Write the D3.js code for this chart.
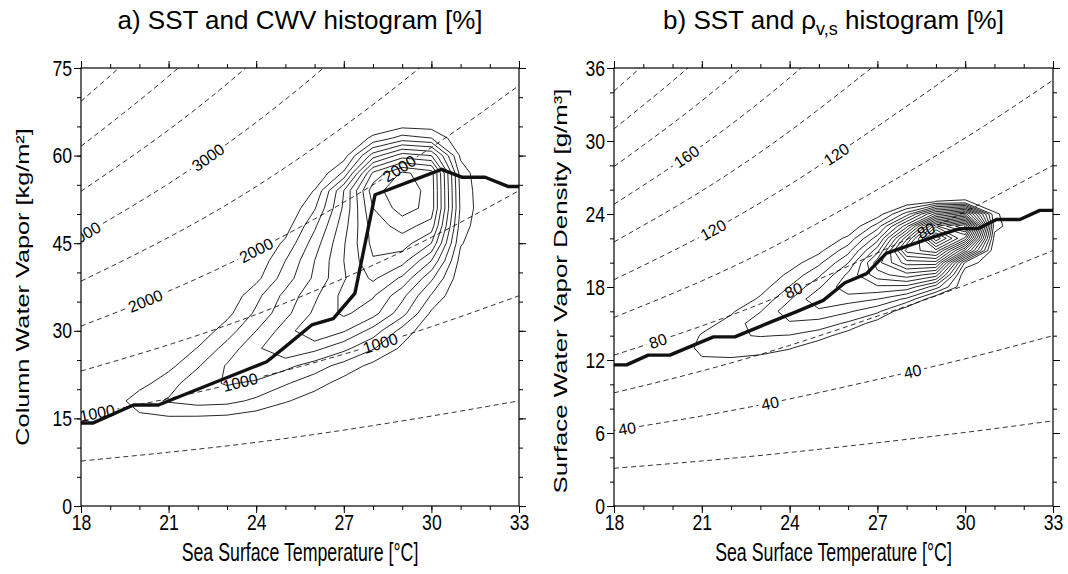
<!DOCTYPE html>
<html>
<head>
<meta charset="utf-8">
<script src="https://cdn.jsdelivr.net/npm/d3@7"></script>
<style>
  body { margin: 0; background: #fff; }
  svg { display: block; font-family: "Liberation Sans", Arial, Helvetica, sans-serif; }
</style>
</head>
<body>
<svg id="chart" width="1068" height="574"></svg>
<script>
// ---- axis ticks ----
const sstTicks = [18, 21, 24, 27, 30, 33];
const cwvTicks = [0, 15, 30, 45, 60, 75];
const rhoTicks = [0, 6, 12, 18, 24, 30, 36];

// ---- dashed isolines, read at these SST nodes ----
const isoSst = [18, 21, 24, 27, 30, 33];
const cwvIso = [
  [7.7, 9.2, 10.9, 13.0, 15.4, 18.0],
  [15.4, 18.4, 21.9, 26.0, 30.7, 36.0],
  [23.1, 27.6, 32.8, 39.0, 46.0, 54.0],
  [30.8, 36.8, 43.8, 52.0, 61.4, 72.0],
  [38.5, 46.0, 54.7, 65.0, 76.7, 90.0],
  [46.2, 55.2, 65.7, 78.0, 92.1, 108.0],
  [53.9, 64.4, 76.6, 91.0, 107.4, 126.0],
  [61.6, 73.6, 87.6, 104.0, 122.8, 144.0],
  [69.3, 82.8, 98.5, 117.0, 138.1, 162.0]
];
const cwvLabelLine = [1, 1, 1, 3, 3, 3, 5, 5];
const cwvLabelSst = [18.55, 23.45, 28.25, 20.2, 24.0, 28.9, 18.1, 22.35];
const cwvLabelText = ["1000", "1000", "1000", "2000", "2000", "2000", "3000", "3000"];

const rhoIso = [
  [3.1, 3.7, 4.4, 5.2, 6.05, 7.0],
  [6.2, 7.4, 8.8, 10.4, 12.1, 14.0],
  [9.3, 11.1, 13.2, 15.6, 18.15, 21.0],
  [12.4, 14.8, 17.6, 20.8, 24.2, 28.0],
  [15.5, 18.5, 22.0, 26.0, 30.25, 35.0],
  [18.6, 22.2, 26.4, 31.2, 36.3, 42.0],
  [21.7, 25.9, 30.8, 36.4, 42.35, 49.0],
  [24.8, 29.6, 35.2, 41.6, 48.4, 56.0],
  [27.9, 33.3, 39.6, 46.8, 54.45, 63.0],
  [31.0, 37.0, 44.0, 52.0, 60.5, 70.0],
  [34.1, 40.7, 48.4, 57.2, 66.55, 77.0]
];
const rhoLabelLine = [1, 1, 1, 3, 3, 3, 5, 5, 7];
const rhoLabelSst = [18.45, 23.33, 28.2, 19.5, 24.13, 28.66, 21.39, 25.6, 20.48];
const rhoLabelText = ["40", "40", "40", "80", "80", "80", "120", "120", "160"];

// ---- thick lines ----
const cwvLineSst = [18, 18.4, 19.8, 20.65, 21.4, 24.36, 24.93, 25.9, 26.64, 27.38, 28.07, 30.35, 31.04, 31.84, 32.64, 33];
const cwvLineVal = [14.2, 14.2, 17.3, 17.3, 18.8, 24.7, 27.0, 31.0, 32.1, 36.4, 53.3, 57.65, 56.3, 56.3, 54.7, 54.7];
const rhoLineSst = [18, 18.43, 19.17, 19.91, 20.6, 21.4, 22.13, 23.39, 24.24, 25.15, 25.89, 26.63, 27.3, 28.9, 29.82, 30.45, 31.07, 31.87, 32.55, 33];
const rhoLineVal = [11.6, 11.6, 12.4, 12.4, 13.1, 13.9, 13.9, 15.15, 15.97, 16.9, 18.35, 19.1, 20.76, 22.1, 22.8, 22.8, 23.55, 23.55, 24.3, 24.3];

// ---- histogram grids (columns = SST nodes, rows = value nodes) ----
const histSst = [18, 19, 20, 21, 22, 23, 24, 25, 26, 27, 28, 29, 30, 31, 32, 33];
const cwvHistRows = [15, 18, 21, 24, 27, 30, 33, 36, 39, 42, 45, 48, 51, 54, 57, 60, 63, 66];
const cwvHist = [
  [0, 0, 0.7, 0.85, 0.8, 0.7, 0.4, 0, 0, 0, 0, 0, 0, 0, 0, 0],
  [0, 0.3, 1.6, 2.1, 2.4, 2.3, 1.8, 1.1, 0.5, 0, 0, 0, 0, 0, 0, 0],
  [0, 0, 0.6, 1.6, 2.6, 3.1, 2.8, 2.1, 1.4, 0.6, 0, 0, 0, 0, 0, 0],
  [0, 0, 0, 0.7, 1.9, 3.1, 3.9, 3.3, 2.5, 1.6, 0.7, 0, 0, 0, 0, 0],
  [0, 0, 0, 0.1, 1.05, 2.4, 3.8, 4.9, 4.3, 3.3, 2.1, 0.8, 0, 0, 0, 0],
  [0, 0, 0, 0, 0.3, 1.5, 3.0, 4.5, 6.0, 5.1, 3.6, 1.6, 0.2, 0, 0, 0],
  [0, 0, 0, 0, 0, 0.7, 2.2, 3.7, 5.2, 6.2, 5.4, 3.4, 0.8, 0, 0, 0],
  [0, 0, 0, 0, 0, 0.2, 1.7, 3.3, 4.8, 6.3, 6.1, 4.3, 1.9, 0, 0, 0],
  [0, 0, 0, 0, 0, 0, 0.7, 2.5, 4.2, 5.9, 7.2, 5.8, 3.2, 0.3, 0, 0],
  [0, 0, 0, 0, 0, 0, 0.2, 2.0, 4.0, 6.0, 7.9, 7.4, 5.0, 0.6, 0, 0],
  [0, 0, 0, 0, 0, 0, 0, 1.2, 3.5, 5.9, 8.3, 8.5, 7.0, 1.1, 0, 0],
  [0, 0, 0, 0, 0, 0, 0, 0.5, 2.8, 5.6, 8.5, 9.4, 8.6, 1.5, 0, 0],
  [0, 0, 0, 0, 0, 0, 0, 0, 1.9, 5.2, 9.0, 10.5, 9.6, 1.8, 0, 0],
  [0, 0, 0, 0, 0, 0, 0, 0, 1.05, 5.0, 9.6, 10.7, 9.6, 1.7, 0, 0],
  [0, 0, 0, 0, 0, 0, 0, 0, 0, 2.2, 8.2, 10.2, 9.5, 1.5, 0, 0],
  [0, 0, 0, 0, 0, 0, 0, 0, 0, 0.5, 4.5, 6.5, 6.0, 0.8, 0, 0],
  [0, 0, 0, 0, 0, 0, 0, 0, 0, 0, 1.2, 2.4, 2.0, 0.2, 0, 0],
  [0, 0, 0, 0, 0, 0, 0, 0, 0, 0, 0, 0, 0, 0, 0, 0]
];
const cwvLevels = [1, 2, 3, 4, 5, 6, 7, 8, 9, 10];

const rhoHistRows = [11, 12, 13, 14, 15, 16, 17, 18, 19, 20, 21, 22, 23, 24, 25, 26];
const rhoHist = [
  [0, 0, 0, 0, 0, 0, 0, 0, 0, 0, 0, 0, 0, 0, 0, 0],
  [0, 0, 0, 0.9, 0.9, 0.7, 0.2, 0, 0, 0, 0, 0, 0, 0, 0, 0],
  [0, 0, 0.3, 1.25, 1.4, 1.4, 1.1, 0.3, 0, 0, 0, 0, 0, 0, 0, 0],
  [0, 0, 0, 1.1, 1.9, 2.05, 1.95, 1.45, 0.45, 0, 0, 0, 0, 0, 0, 0],
  [0, 0, 0, 0.6, 1.35, 2.7, 2.85, 2.6, 1.8, 0.45, 0, 0, 0, 0, 0, 0],
  [0, 0, 0, 0, 0.85, 1.95, 3.7, 3.75, 3.15, 2.25, 0, 0, 0, 0, 0, 0],
  [0, 0, 0, 0, 0, 1.2, 2.9, 4.9, 4.45, 4.0, 2.75, 0, 0, 0, 0, 0],
  [0, 0, 0, 0, 0, 0.5, 2.05, 3.85, 5.8, 5.8, 5.65, 3.45, 0, 0, 0, 0],
  [0, 0, 0, 0, 0, 0, 1.25, 2.8, 5.25, 7.6, 8.6, 7.5, 0, 0, 0, 0],
  [0, 0, 0, 0, 0, 0, 0.45, 1.75, 3.95, 8.6, 11.5, 11.6, 1.8, 0, 0, 0],
  [0, 0, 0, 0, 0, 0, 0, 0.7, 2.6, 6.55, 14.4, 15.7, 8.7, 0, 0, 0],
  [0, 0, 0, 0, 0, 0, 0, 0, 1.25, 4.5, 11.7, 19.8, 14.7, 0.6, 0, 0],
  [0, 0, 0, 0, 0, 0, 0, 0, 0, 2.45, 7.6, 15.8, 19.1, 1.4, 0, 0],
  [0, 0, 0, 0, 0, 0, 0, 0, 0, 0.4, 3.45, 8.4, 10.5, 1.2, 0, 0],
  [0, 0, 0, 0, 0, 0, 0, 0, 0, 0, 0.1, 1.05, 1.2, 0, 0, 0],
  [0, 0, 0, 0, 0, 0, 0, 0, 0, 0, 0, 0, 0, 0, 0, 0]
];
const rhoLevels = [1, 2, 3, 4, 5, 6, 7, 8, 9, 10, 11, 12, 13, 14, 15, 16, 17, 18, 19];

const svg = d3.select("#chart");
const defs = svg.append("defs");

// axis text is drawn narrow (Helvetica-Narrow look)
function squeeze(sel, k) {
  sel.each(function () {
    const w = this.getComputedTextLength();
    d3.select(this).attr("textLength", w * k).attr("lengthAdjust", "spacingAndGlyphs");
  });
}

function pointAtX(node, px) {
  const L = node.getTotalLength();
  let lo = 0, hi = L;
  for (let k = 0; k < 40; k++) {
    const mid = (lo + hi) / 2;
    if (node.getPointAtLength(mid).x < px) lo = mid; else hi = mid;
  }
  const p = node.getPointAtLength(lo);
  const a = node.getPointAtLength(Math.max(0, lo - 4));
  const b = node.getPointAtLength(Math.min(L, lo + 4));
  return { x: p.x, y: p.y, angle: Math.atan2(b.y - a.y, b.x - a.x) * 180 / Math.PI };
}

function drawPanel(p) {
  const x = d3.scaleLinear([18, 33], [p.left, p.right]);
  const y = d3.scaleLinear([0, p.yMax], [p.bottom, p.top]);
  const g = svg.append("g");

  defs.append("clipPath").attr("id", "clip-" + p.id)
    .append("rect")
      .attr("x", p.left).attr("y", p.top)
      .attr("width", p.right - p.left).attr("height", p.bottom - p.top);

  const mask = defs.append("mask").attr("id", "mask-" + p.id)
    .attr("maskUnits", "userSpaceOnUse")
    .attr("x", 0).attr("y", 0).attr("width", 1068).attr("height", 574);
  mask.append("rect").attr("width", 1068).attr("height", 574).attr("fill", "#fff");

  // dashed isolines
  const line = d3.line().x(d => x(d[0])).y(d => y(d[1])).curve(d3.curveNatural);
  const clipG = g.append("g").attr("clip-path", `url(#clip-${p.id})`);
  const isoG = clipG.append("g").attr("mask", `url(#mask-${p.id})`);
  const isoPaths = p.iso.map(vals =>
    isoG.append("path")
      .attr("d", line(isoSst.map((s, i) => [s, vals[i]])))
      .attr("fill", "none")
      .attr("stroke", "#000")
      .attr("stroke-width", 0.8)
      .attr("stroke-dasharray", "5,3.5")
      .node());

  // histogram contours
  const nx = histSst.length, ny = p.histRows.length;
  const dx = histSst[1] - histSst[0], dy = p.histRows[1] - p.histRows[0];
  const contours = d3.contours().size([nx, ny]).thresholds(p.levels)(p.hist.flat());
  const proj = d3.geoTransform({
    point: function (px, py) {
      this.stream.point(x(histSst[0] + (px - 0.5) * dx), y(p.histRows[0] + (py - 0.5) * dy));
    }
  });
  clipG.append("g").selectAll("path")
    .data(contours)
    .join("path")
      .attr("d", d3.geoPath(proj))
      .attr("fill", "none")
      .attr("stroke", "#000")
      .attr("stroke-width", 0.85)
      .attr("stroke-linejoin", "round");

  // thick line
  clipG.append("path")
    .attr("d", d3.line().x(d => x(d)).y((d, i) => y(p.lineVal[i]))(p.lineSst))
    .attr("fill", "none")
    .attr("stroke", "#111")
    .attr("stroke-width", 3.4)
    .attr("stroke-linejoin", "round");

  // isoline labels
  const labG = clipG.append("g");
  p.labelSst.forEach((s, i) => {
    const pos = pointAtX(isoPaths[p.labelLine[i]], x(s));
    const t = labG.append("text")
      .attr("transform", `translate(${pos.x},${pos.y}) rotate(${pos.angle})`)
      .attr("text-anchor", "middle")
      .attr("dy", "0.36em")
      .attr("font-size", 16)
      .text(p.labelText[i]);
    const w = t.node().getComputedTextLength() + 6;
    mask.append("rect")
      .attr("transform", `translate(${pos.x},${pos.y}) rotate(${pos.angle})`)
      .attr("x", -w / 2).attr("y", -7).attr("width", w).attr("height", 14)
      .attr("fill", "#000");
  });

  // axes: outward ticks on all sides
  const styleAxis = sel => {
    sel.select(".domain").remove();
    sel.selectAll("line").attr("stroke", "#000").attr("stroke-width", 1);
    sel.selectAll("text").attr("font-size", 22).attr("fill", "#000")
      .attr("font-family", "Liberation Sans, Arial, Helvetica, sans-serif")
      .call(squeeze, 0.8);
  };
  const xMinor = d3.range(18, 34, 1);
  const yMinor = d3.range(0, p.yMax + 0.01, p.yMinorStep);

  g.append("g").attr("transform", `translate(0,${p.bottom})`)
    .call(d3.axisBottom(x).tickValues(xMinor).tickSize(4).tickFormat("")).call(styleAxis);
  g.append("g").attr("transform", `translate(0,${p.bottom})`)
    .call(d3.axisBottom(x).tickValues(sstTicks).tickSize(7).tickPadding(1).tickFormat(d3.format("d"))).call(styleAxis);
  g.append("g").attr("transform", `translate(0,${p.top})`)
    .call(d3.axisTop(x).tickValues(xMinor).tickSize(4).tickFormat("")).call(styleAxis);
  g.append("g").attr("transform", `translate(0,${p.top})`)
    .call(d3.axisTop(x).tickValues(sstTicks).tickSize(7).tickFormat("")).call(styleAxis);

  g.append("g").attr("transform", `translate(${p.left},0)`)
    .call(d3.axisLeft(y).tickValues(yMinor).tickSize(4).tickFormat("")).call(styleAxis);
  g.append("g").attr("transform", `translate(${p.left},0)`)
    .call(d3.axisLeft(y).tickValues(p.yTicks).tickSize(7).tickPadding(2).tickFormat(d3.format("d"))).call(styleAxis);
  g.append("g").attr("transform", `translate(${p.right},0)`)
    .call(d3.axisRight(y).tickValues(yMinor).tickSize(4).tickFormat("")).call(styleAxis);
  g.append("g").attr("transform", `translate(${p.right},0)`)
    .call(d3.axisRight(y).tickValues(p.yTicks).tickSize(7).tickFormat("")).call(styleAxis);

  g.append("rect")
    .attr("x", p.left).attr("y", p.top)
    .attr("width", p.right - p.left).attr("height", p.bottom - p.top)
    .attr("fill", "none").attr("stroke", "#000").attr("stroke-width", 1.2);

  // titles
  const title = g.append("text")
    .attr("x", (p.left + p.right) / 2).attr("y", 29)
    .attr("text-anchor", "middle").attr("font-size", 26);
  p.title(title);

  g.append("text")
    .attr("x", (p.left + p.right) / 2).attr("y", 561)
    .attr("text-anchor", "middle").attr("font-size", 25)
    .text("Sea Surface Temperature [°C]")
    .call(squeeze, 0.71);

  g.append("text")
    .attr("transform", `translate(${p.yTitleX},${(p.top + p.bottom) / 2 + p.yTitleShift}) rotate(-90)`)
    .attr("text-anchor", "middle").attr("font-size", 19)
    .text(p.yTitle)
    .call(squeeze, p.yTitleStretch);
}

drawPanel({
  id: "a", left: 81, right: 519, top: 68, bottom: 506,
  yMax: 75, yTicks: cwvTicks, yMinorStep: 5,
  iso: cwvIso, labelLine: cwvLabelLine, labelSst: cwvLabelSst, labelText: cwvLabelText,
  histRows: cwvHistRows, hist: cwvHist, levels: cwvLevels,
  lineSst: cwvLineSst, lineVal: cwvLineVal,
  yTitle: "Column Water Vapor [kg/m²]", yTitleX: 29, yTitleShift: 0, yTitleStretch: 1.33,
  title: t => t.text("a) SST and CWV histogram [%]")
});

drawPanel({
  id: "b", left: 614, right: 1053, top: 68, bottom: 506,
  yMax: 36, yTicks: rhoTicks, yMinorStep: 2,
  iso: rhoIso, labelLine: rhoLabelLine, labelSst: rhoLabelSst, labelText: rhoLabelText,
  histRows: rhoHistRows, hist: rhoHist, levels: rhoLevels,
  lineSst: rhoLineSst, lineVal: rhoLineVal,
  yTitle: "Surface Water Vapor Density [g/m³]", yTitleX: 567, yTitleShift: 4, yTitleStretch: 1.36,
  title: t => {
    t.append("tspan").text("b) SST and ρ");
    t.append("tspan").attr("dy", 6).attr("font-size", 18).text("v,s");
    t.append("tspan").attr("dy", -6).text(" histogram [%]");
  }
});
</script>
</body>
</html>
